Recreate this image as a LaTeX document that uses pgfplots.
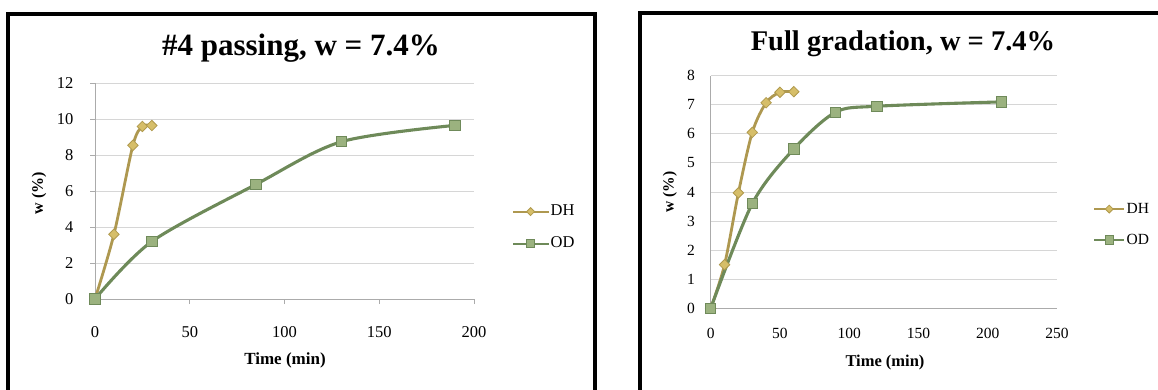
\documentclass[border=0pt]{standalone}
\usepackage{fontspec}
\setmainfont{Liberation Serif}
\usepackage{pgfplots}
\pgfplotsset{compat=1.18}

\definecolor{dhline}{HTML}{AE9850}
\definecolor{dhfill}{HTML}{D6BE69}
\definecolor{dhedge}{HTML}{B09A4E}
\definecolor{odline}{HTML}{6E8A59}
\definecolor{odfill}{HTML}{9BB27F}
\definecolor{odedge}{HTML}{6F8A5A}
\definecolor{gridgray}{HTML}{D6D6D6}
\definecolor{axisgray}{HTML}{ABABAB}

\pgfplotsset{
  excel/.style={
    scale only axis,
    anchor=south west,
    axis x line*=bottom,
    axis y line*=left,
    axis line style={axisgray, line width=1pt},
    ymajorgrids,
    grid style={gridgray, line width=1pt},
    tick style={axisgray, line width=1pt},
    tick align=outside,
    /pgf/number format/assume math mode=true,
    legend cell align=left,
    legend style={draw=none, fill=none, inner sep=0pt,
      nodes={inner sep=1.5pt, text height=11pt, text depth=3pt}},
    clip=false,
  },
  dh/.style={color=dhline, line width=2.8pt, smooth, tension=0.5,
    mark=square*, mark size=3.7pt,
    mark options={rotate=45, fill=dhfill, draw=dhedge, line width=0.8pt}},
  od/.style={color=odline, line width=3.1pt, smooth, tension=0.5,
    mark=square*, mark size=5.2pt,
    mark options={fill=odfill, draw=odedge, line width=1pt}},
}

\begin{document}
\begin{tikzpicture}[x=1pt, y=1pt]
\useasboundingbox (0,0) rectangle (1158,389);

% panel frames
\draw[line width=3.8pt] (8,-20) -- (8,375.3) -- (595.3,375.3) -- (595.3,-20);
\draw[line width=3.8pt] (639.7,-20) -- (639.7,376.3) -- (1185,376.3);

% ---------- #4 passing ----------
\begin{axis}[excel,
  at={(95pt,90pt)}, width=379pt, height=215.7pt,
  xmin=0, xmax=200, ymin=0, ymax=12,
  xtick={0,50,...,200}, ytick={0,2,...,12},
  major tick length=5pt,
  ticklabel style={font=\fontsize{16.5}{18}\selectfont},
  xticklabel style={anchor=center, yshift=-27.7pt, inner sep=0pt},
  yticklabel style={anchor=east, xshift=-16.5pt, inner sep=0pt},
  legend style={at={(1.100,0.331)}, anchor=west,
    font=\fontsize{16.5}{18}\selectfont, row sep=15pt},
  legend image code/.code={\draw[mark repeat=2,mark phase=2,#1]
    plot coordinates {(0pt,0pt) (17.5pt,0pt) (35pt,0pt)};},
]
\addplot[dh, legend image post style={line width=2pt, mark size=2.8pt}]
  coordinates {(0,0) (10,3.6) (20,8.55) (25,9.6) (30,9.65)};
\addlegendentry{DH}
\addplot[od, legend image post style={line width=2pt, mark size=4.2pt}]
  coordinates {(0,0) (30,3.2) (85,6.38) (130,8.75) (190,9.66)};
\addlegendentry{OD}
\end{axis}

\node[font=\fontsize{31}{36}\selectfont\bfseries] at (301,341) {\#4 passing, w = 7.4\%};
\node[font=\fontsize{17}{20}\selectfont\bfseries] at (285,29) {Time (min)};
\node[font=\fontsize{16}{19}\selectfont\bfseries, rotate=90] at (39,196) {w (\%)};

% ---------- Full gradation ----------
\begin{axis}[excel,
  at={(710.7pt,80.7pt)}, width=346.3pt, height=232.6pt,
  xmin=0, xmax=250, ymin=0, ymax=8,
  xtick={0,50,...,250}, ytick={0,1,...,8},
  major tick length=0pt,
  ticklabel style={font=\fontsize{15.5}{17}\selectfont},
  xticklabel style={anchor=center, yshift=-25pt, inner sep=0pt},
  yticklabel style={anchor=east, xshift=-15.7pt, inner sep=0pt},
  legend style={at={(1.104,0.360)}, anchor=west,
    font=\fontsize{15.5}{17}\selectfont, row sep=14pt},
  legend image code/.code={\draw[mark repeat=2,mark phase=2,#1]
    plot coordinates {(0pt,0pt) (15pt,0pt) (30pt,0pt)};},
]
\addplot[dh, legend image post style={line width=2pt, mark size=2.8pt}]
  coordinates {(0,0) (10,1.5) (20,3.97) (30,6.05) (40,7.07) (50,7.43) (60,7.45)};
\addlegendentry{DH}
\addplot[od, legend image post style={line width=2pt, mark size=4.2pt}]
  coordinates {(0,0) (30,3.6) (60,5.48) (90,6.74) (120,6.95) (210,7.1)};
\addlegendentry{OD}
\end{axis}

\node[font=\fontsize{28.5}{33}\selectfont\bfseries] at (903,345.7) {Full gradation, w = 7.4\%};
\node[font=\fontsize{16.5}{19}\selectfont\bfseries] at (885,26) {Time (min)};
\node[font=\fontsize{15.5}{18}\selectfont\bfseries, rotate=90] at (670,197) {w (\%)};
\end{tikzpicture}
\end{document}
